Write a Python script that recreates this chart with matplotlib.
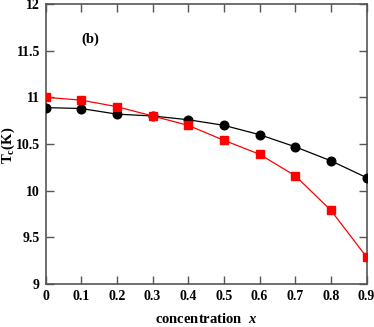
import matplotlib
matplotlib.use("Agg")
import matplotlib.pyplot as plt

x = [0, 0.1, 0.2, 0.3, 0.4, 0.5, 0.6, 0.7, 0.8, 0.9]
tc_black = [10.89, 10.88, 10.82, 10.80, 10.76, 10.70, 10.60, 10.47, 10.32, 10.14]
tc_red = [11.00, 10.97, 10.90, 10.80, 10.70, 10.54, 10.39, 10.16, 9.79, 9.29]
xticks = [0, 0.1, 0.2, 0.3, 0.4, 0.5, 0.6, 0.7, 0.8, 0.9]
xticklabels = ["0", "0.1", "0.2", "0.3", "0.4", "0.5", "0.6", "0.7", "0.8", "0.9"]
yticks = [9, 9.5, 10, 10.5, 11, 11.5, 12]
yticklabels = ["9", "9.5", "10", "10.5", "11", "11.5", "12"]

plt.rcParams['font.family'] = ['Liberation Serif', 'DejaVu Serif']
plt.rcParams['mathtext.fontset'] = 'custom'
plt.rcParams['mathtext.rm'] = 'Liberation Serif:bold'
plt.rcParams['mathtext.it'] = 'Liberation Serif:bold:italic'
plt.rcParams['mathtext.bf'] = 'Liberation Serif:bold'

fig = plt.figure(figsize=(3.74, 3.27), dpi=100)
ax = fig.add_axes([0.1217, 0.1315, 0.8583, 0.8563])

ax.plot(x, tc_black, color='black', lw=0.9, marker='o', ms=6.2, zorder=3)
ax.plot(x, tc_red, color='red', lw=0.9, marker='s', ms=5.4, zorder=4)

ax.set_xlim(0, 0.9)
ax.set_ylim(9, 12)
ax.set_xticks(xticks)
ax.set_xticklabels(xticklabels, fontweight='bold', fontsize=10)
ax.set_yticks(yticks)
ax.set_yticklabels(yticklabels, fontweight='bold', fontsize=10)
ax.tick_params(direction='in', length=5.5, width=1, color='#555555',
               top=True, right=True, pad=4)
for s in ax.spines.values():
    s.set_color('#555555')
    s.set_linewidth(1.2)

ax.set_xlabel('concentration  $\\mathit{x}$', fontweight='bold', fontsize=10.5, labelpad=7)
fig.text(8 / 374, 1 - 145 / 327, 'T$_\\mathrm{c}$(K)', fontweight='bold', fontsize=10.5,
         rotation=90, ha='center', va='center')
ax.text(0.125, 11.62, '(b)', fontweight='bold', fontsize=10.5, ha='center', va='center')

fig.savefig('out.png', dpi=100)
